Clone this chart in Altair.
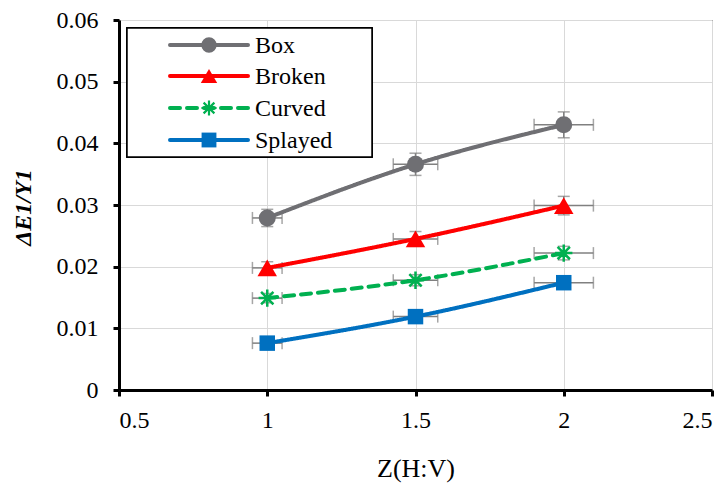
import altair as alt
import pandas as pd

# ---------------- data ----------------
series = ["Box", "Broken", "Curved", "Splayed"]
z_values = [1.0, 1.5, 2.0]
box = [0.0279, 0.0366, 0.0430]
broken = [0.0198, 0.0245, 0.0299]
curved = [0.0149, 0.0178, 0.0222]
splayed = [0.0076, 0.0119, 0.0174]
z_err = [0.05, 0.075, 0.10]
box_err = [0.0014, 0.0018, 0.0021]
broken_err = [0.0010, 0.0012, 0.0015]
curved_err = [0.00075, 0.0009, 0.0011]
splayed_err = [0.0004, 0.0006, 0.0009]
x_ticks = [0.5, 1, 1.5, 2, 2.5]
y_ticks = [0, 0.01, 0.02, 0.03, 0.04, 0.05, 0.06]

colors = ["#6f6f73", "#ff0000", "#00b050", "#0070c0"]
dashes = [[1, 0], [1, 0], [10, 7], [1, 0]]

vals = {"Box": box, "Broken": broken, "Curved": curved, "Splayed": splayed}
errs = {"Box": box_err, "Broken": broken_err, "Curved": curved_err, "Splayed": splayed_err}

rows = []
for s in series:
    for i, zv in enumerate(z_values):
        v = vals[s][i]
        e = errs[s][i]
        rows.append({
            "series": s, "z": zv, "y": v,
            "zlo": zv - z_err[i], "zhi": zv + z_err[i],
            "ylo": v - e, "yhi": v + e,
        })
df = pd.DataFrame(rows)
leg_df = pd.DataFrame({"series": series})

FONT = "Liberation Serif"
AST = "M-1,0L1,0M0,-1L0,1M-0.71,-0.71L0.71,0.71M-0.71,0.71L0.71,-0.71"

# ---------------- scales / axes ----------------
x_scale = alt.Scale(domain=[0.5, 2.5], nice=False, zero=False)
y_scale = alt.Scale(domain=[0, 0.06], nice=False)
color_scale = alt.Scale(domain=series, range=colors)

x_axis = alt.Axis(
    values=x_ticks, format="~g", title="Z(H:V)",
    labelFont=FONT, labelFontSize=24, labelColor="black", labelPadding=12,
    tickColor="black", tickWidth=3, tickSize=6,
    domainColor="black", domainWidth=3,
    grid=True, gridColor="#d9d9d9", gridWidth=1,
    titleFont=FONT, titleFontSize=26, titleFontWeight="normal", titleColor="black",
    titleY=78, titleBaseline="middle",
)
y_axis = alt.Axis(
    values=y_ticks, format="~g", title="ΔE1/Y1",
    labelFont=FONT, labelFontSize=24, labelColor="black", labelPadding=15,
    tickColor="black", tickWidth=3, tickSize=6,
    domainColor="black", domainWidth=3,
    grid=True, gridColor="#d9d9d9", gridWidth=1,
    titleFont=FONT, titleFontSize=24, titleFontWeight="bold", titleFontStyle="italic",
    titleColor="black", titleX=-96, titleY=187, titleAngle=270,
    titleAlign="center", titleBaseline="middle",
)

X = alt.X("z:Q", scale=x_scale, axis=x_axis)
Y = alt.Y("y:Q", scale=y_scale, axis=y_axis)

base = alt.Chart(df)

xerr = base.mark_errorbar(
    ticks={"size": 12, "thickness": 1.5}, rule={"strokeWidth": 1.5}, color="#808080"
).encode(
    x=alt.X("zlo:Q", scale=x_scale, axis=x_axis),
    x2="zhi:Q",
    y=Y,
)
yerr = base.mark_errorbar(
    ticks={"size": 12, "thickness": 1.5}, rule={"strokeWidth": 1.5}, color="#808080"
).encode(
    y=alt.Y("ylo:Q", scale=y_scale, axis=y_axis),
    y2="yhi:Q",
    x=X,
)

lines = base.mark_line(strokeWidth=4, interpolate="monotone", strokeCap="round").encode(
    x=X, y=Y,
    color=alt.Color("series:N", scale=color_scale, legend=None),
    strokeDash=alt.StrokeDash("series:N", scale=alt.Scale(domain=series, range=dashes), legend=None),
)

marker_defs = {
    "Box": dict(shape="circle", filled=True, size=289),
    "Broken": dict(shape="triangle-up", filled=True, size=380),
    "Curved": dict(shape=AST, filled=False, size=300, strokeWidth=2.5),
    "Splayed": dict(shape="square", filled=True, size=240),
}
legend_marker_defs = {
    "Box": dict(shape="circle", filled=True, size=235),
    "Broken": dict(shape="triangle-up", filled=True, size=270),
    "Curved": dict(shape=AST, filled=False, size=230, strokeWidth=2.2),
    "Splayed": dict(shape="square", filled=True, size=220),
}

point_layers = []
for s in series:
    point_layers.append(
        base.transform_filter(alt.datum.series == s)
        .mark_point(opacity=1, **marker_defs[s])
        .encode(x=X, y=Y, color=alt.Color("series:N", scale=color_scale, legend=None))
    )

# ---------------- legend (drawn inside the plot, top-left) ----------------
leg_base = alt.Chart(leg_df)
legend_layers = [
    leg_base.mark_rect(fill="white", stroke="black", strokeWidth=1.5).encode(
        x=alt.value(8), x2=alt.value(253), y=alt.value(8), y2=alt.value(137)
    )
]
row_y = [25, 56, 88, 120]
for i, s in enumerate(series):
    sub = leg_base.transform_filter(alt.datum.series == s)
    legend_layers.append(
        sub.mark_rule(strokeWidth=4, strokeCap="round", strokeDash=dashes[i], color=colors[i]).encode(
            x=alt.value(51), x2=alt.value(129), y=alt.value(row_y[i])
        )
    )
    legend_layers.append(
        sub.mark_point(opacity=1, color=colors[i], **legend_marker_defs[s]).encode(
            x=alt.value(90), y=alt.value(row_y[i])
        )
    )
    legend_layers.append(
        sub.mark_text(align="left", baseline="middle", font=FONT, fontSize=24, color="black").encode(
            x=alt.value(136), y=alt.value(row_y[i] + 1), text="series:N"
        )
    )

chart = alt.layer(xerr, yerr, lines, *point_layers, *legend_layers).properties(
    width=593, height=370,
    background="white",
    autosize=alt.AutoSizeParams(type="none"),
    padding={"left": 111, "top": 12, "right": 8, "bottom": 100},
).configure_view(stroke="black", strokeWidth=1)

chart.save("out.html", embed_options={"renderer": "svg", "actions": False})
